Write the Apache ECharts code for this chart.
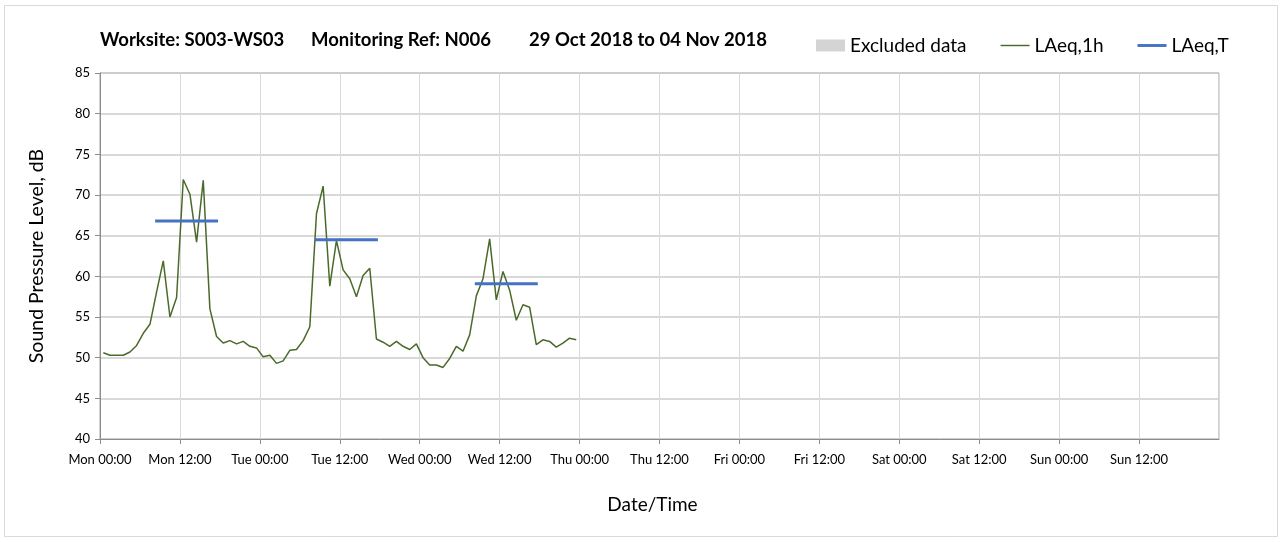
<!DOCTYPE html>
<html>
<head>
<meta charset="utf-8">
<script src="https://cdn.jsdelivr.net/npm/echarts@6/dist/echarts.min.js"></script>
<style>
  html, body { margin: 0; padding: 0; background: #fff; }
  #chart { width: 1280px; height: 542px; }
</style>
</head>
<body>
<div id="chart"></div>
<script>
  // hourly LAeq values, first point at Mon 00:30
  const firstHour = 0.5;
  const dayNames = ['Mon', 'Tue', 'Wed', 'Thu', 'Fri', 'Sat', 'Sun'];
  const laeq1h = [
    50.6, 50.3, 50.3, 50.3, 50.7, 51.5, 53.0, 54.1, 58.1, 61.9, 55.0, 57.4,
    71.9, 70.1, 64.2, 71.8, 56.0, 52.6, 51.8, 52.1, 51.7, 52.0, 51.4, 51.2,
    50.1, 50.3, 49.3, 49.6, 50.9, 51.0, 52.1, 53.8, 67.7, 71.1, 58.8, 64.4,
    60.8, 59.7, 57.5, 60.1, 61.0, 52.3, 51.9, 51.4, 52.0, 51.4, 51.0, 51.7,
    50.0, 49.1, 49.1, 48.8, 49.9, 51.4, 50.8, 52.8, 57.6, 59.7, 64.6, 57.1,
    60.6, 58.3, 54.6, 56.5, 56.2, 51.6, 52.2, 52.0, 51.3, 51.8, 52.4, 52.2
  ];
  // daytime period LAeq,T (hours from Mon 00:00)
  const periodStart = [8.5, 32.5, 56.5];
  const periodEnd = [17.5, 41.5, 65.5];
  const laeqT = [66.8, 64.5, 59.1];

  const hourlyData = laeq1h.map((v, i) => [firstHour + i, v]);
  const periodData = [];
  laeqT.forEach((v, i) => {
    periodData.push([periodStart[i], v], [periodEnd[i], v], [periodEnd[i], null]);
  });

  const font = 'Lato, "Open Sans", sans-serif';
  const chart = echarts.init(document.getElementById('chart'));

  chart.setOption({
    animation: false,
    textStyle: { fontFamily: font },
    title: [
      { text: 'Worksite: S003-WS03', left: 100 },
      { text: 'Monitoring Ref: N006', left: 311 },
      { text: '29 Oct 2018 to 04 Nov 2018', left: 529 },
    ].map((t) => ({
      ...t,
      top: 31,
      padding: 0,
      textStyle: { fontFamily: font, fontSize: 18.5, fontWeight: 'bold', color: '#000' },
    })),
    graphic: [
      {
        type: 'rect',
        shape: { x: 4.5, y: 5.5, width: 1273, height: 531 },
        style: { fill: 'none', stroke: '#d9d9d9', lineWidth: 1 },
        silent: true,
      },
    ],
    legend: {
      left: 816,
      top: 36,
      padding: 0,
      itemWidth: 29,
      itemHeight: 12,
      itemGap: 34,
      textStyle: { fontFamily: font, fontSize: 19, color: '#000' },
      data: [
        { name: 'Excluded data', icon: 'rect', itemStyle: { color: '#d4d4d4' } },
        { name: 'LAeq,1h', icon: 'path://M0,0H30V1.5H0Z' },
        { name: 'LAeq,T', icon: 'path://M0,0H30V3H0Z' },
      ],
    },
    grid: {
      left: 100,
      right: 61,
      top: 73,
      bottom: 103,
      show: true,
      borderColor: '#a0a0a0',
      borderWidth: 1,
    },
    xAxis: {
      type: 'value',
      min: 0,
      max: 168,
      interval: 12,
      name: 'Date/Time',
      nameLocation: 'middle',
      nameGap: 56,
      nameTextStyle: { fontFamily: font, fontSize: 19, color: '#000', padding: [0, 14, 0, 0] },
      axisLine: { lineStyle: { color: '#8c8c8c' } },
      axisTick: { length: 5, lineStyle: { color: '#8c8c8c' } },
      axisLabel: {
        fontFamily: font,
        fontSize: 13,
        color: '#000',
        margin: 14,
        showMaxLabel: false,
        formatter: (v) => (v >= 168 ? '' : dayNames[Math.floor(v / 24)] + ' ' + (v % 24 === 0 ? '00:00' : '12:00')),
      },
      splitLine: { show: true, lineStyle: { color: '#dadada' } },
    },
    yAxis: {
      type: 'value',
      min: 40,
      max: 85,
      interval: 5,
      name: 'Sound Pressure Level, dB',
      nameLocation: 'middle',
      nameGap: 53,
      nameTextStyle: { fontFamily: font, fontSize: 19.5, color: '#000' },
      axisLine: { show: true, lineStyle: { color: '#8c8c8c' } },
      axisTick: { show: true, length: 5, lineStyle: { color: '#8c8c8c' } },
      axisLabel: { fontFamily: font, fontSize: 13, color: '#000', margin: 10 },
      splitLine: { show: true, lineStyle: { color: '#cccccc', width: 1.5 } },
    },
    series: [
      {
        name: 'Excluded data',
        type: 'line',
        data: [],
        itemStyle: { color: '#d4d4d4' },
      },
      {
        name: 'LAeq,1h',
        type: 'line',
        data: hourlyData,
        showSymbol: false,
        symbol: 'none',
        lineStyle: { color: '#4a6a2a', width: 1.5 },
        itemStyle: { color: '#4a6a2a' },
      },
      {
        name: 'LAeq,T',
        type: 'line',
        data: periodData,
        showSymbol: false,
        symbol: 'none',
        connectNulls: false,
        lineStyle: { color: '#4472c4', width: 3, cap: 'square' },
        itemStyle: { color: '#4472c4' },
      },
    ],
  });
</script>
</body>
</html>
